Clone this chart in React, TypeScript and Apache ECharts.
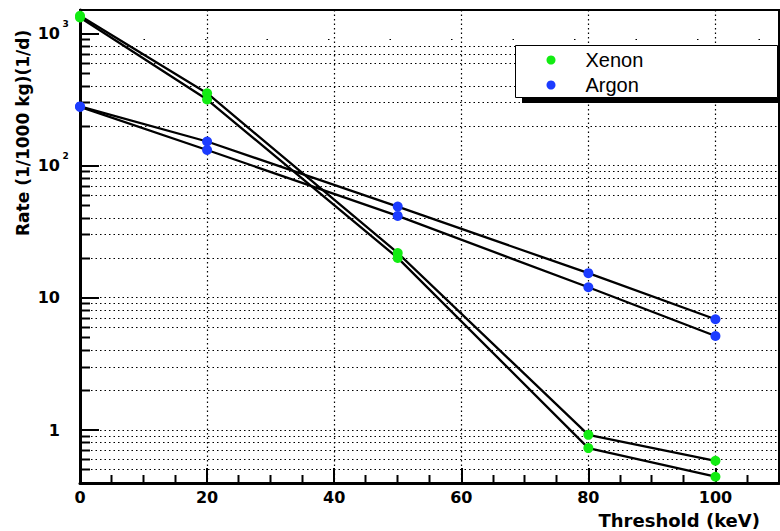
import React, { useEffect, useRef } from 'react';
import * as echarts from 'echarts';

// ---- data ----
const thresholds = [0, 20, 50, 80, 100];
const xenonUpper = [1370, 355, 21.9, 0.92, 0.585];
const xenonLower = [1330, 318, 20.1, 0.73, 0.443];
const argonUpper = [282, 153, 49.2, 15.4, 6.9];
const argonLower = [280, 132, 41.8, 12.05, 5.15];

const xMin = 0;
const xMax = 110;
const yMin = 0.397;
const yMax = 1515;
const xMinorTicks = [5, 10, 15, 25, 30, 35, 45, 50, 55, 65, 70, 75, 85, 90, 95, 105];
const yMinorTicks = [
  0.5, 0.6, 0.7, 0.8, 0.9,
  2, 3, 4, 5, 6, 7, 8, 9,
  20, 30, 40, 50, 60, 70, 80, 90,
  200, 300, 400, 500, 600, 700, 800, 900,
];
const yGridValues = [
  0.5, 0.6, 0.7, 0.8, 0.9, 1,
  2, 3, 4, 6, 7, 8, 9, 10,
  20, 30, 40, 60, 70, 80, 90, 100,
  200, 300, 400, 600, 700, 800,
];
const ySparseGrid = [900];
const legendNames = ['Xenon', 'Argon'];

const GREEN = '#12ec12';
const BLUE = '#1c3cff';
const TICK_FONT = 'DejaVu Sans';

function crisp(v: number) {
  return Math.round(v - 0.5) + 0.5;
}

function hLineSeries(values: number[], dash: number[]) {
  return {
    type: 'custom',
    silent: true,
    z: 1,
    data: values.map((v) => [xMin, v]),
    encode: { x: 0, y: 1 },
    renderItem: (_p: any, api: any) => {
      const v = api.value(1);
      const a = api.coord([xMin, v]);
      const b = api.coord([xMax, v]);
      const y = crisp(a[1]);
      return {
        type: 'line',
        shape: { x1: a[0] + 2, y1: y, x2: b[0], y2: y },
        style: { stroke: '#000', lineWidth: 1.2, lineDash: dash },
      };
    },
  };
}

export default function App() {
  const ref = useRef<HTMLDivElement>(null);

  useEffect(() => {
    if (!ref.current) return;
    const chart = echarts.init(ref.current, null, { renderer: 'svg' });

    const lineSeries = (name: string, vals: number[], color: string) => ({
      type: 'line',
      name,
      data: thresholds.map((x, i) => [x, vals[i]]),
      symbol: 'circle',
      symbolSize: 10,
      showSymbol: true,
      itemStyle: { color, borderWidth: 0 },
      lineStyle: { color: '#000', width: 2.3 },
      z: 5,
    });

    const option: any = {
      animation: false,
      backgroundColor: '#fff',
      grid: {
        left: 80,
        right: 1,
        top: 10,
        bottom: 48,
        show: true,
        borderColor: '#000',
        borderWidth: 2,
        backgroundColor: 'transparent',
        outerBoundsMode: 'none',
        containLabel: false,
      },
      xAxis: {
        type: 'value',
        min: xMin,
        max: xMax,
        interval: 20,
        axisLine: { onZero: false, lineStyle: { color: '#000', width: 3 } },
        axisTick: { inside: true, length: 15, lineStyle: { color: '#000', width: 2 } },
        axisLabel: {
          margin: 6,
          color: '#000',
          fontFamily: TICK_FONT,
          fontWeight: 'bold',
          fontSize: 16,
          showMaxLabel: false,
          formatter: (v: number) => (v % 20 === 0 && v <= 100 ? String(v) : ''),
        },
        splitLine: { show: true, lineStyle: { color: '#000', width: 1.2, type: [1.5, 3] } },
      },
      yAxis: {
        type: 'log',
        logBase: 10,
        min: yMin,
        max: yMax,
        axisLine: { lineStyle: { color: '#000', width: 3 } },
        axisTick: { inside: true, length: 19, lineStyle: { color: '#000', width: 2 } },
        splitLine: { show: false },
        axisLabel: {
          margin: 11,
          color: '#000',
          fontFamily: TICK_FONT,
          fontWeight: 'bold',
          fontSize: 16,
          formatter: (v: number) => {
            const e = Math.log10(v);
            const r = Math.round(e);
            if (Math.abs(e - r) > 1e-6) return '';
            if (r === 0) return '{b|1}{p| }';
            if (r === 1) return '{b|10}{p| }';
            return '{b|10}{s|' + r + '}';
          },
          rich: {
            b: { fontFamily: TICK_FONT, fontWeight: 'bold', fontSize: 16, lineHeight: 28, color: '#000' },
            s: { fontFamily: TICK_FONT, fontSize: 9, lineHeight: 10, verticalAlign: 'top', width: 7, align: 'left', color: '#000', padding: [0, 0, 0, 2] },
            p: { fontSize: 9, lineHeight: 10, width: 9 },
          },
        },
      },
      legend: {
        data: legendNames,
        orient: 'vertical',
        left: 546.5,
        top: 50,
        padding: 0,
        itemGap: 5,
        itemWidth: 9,
        itemHeight: 9,
        icon: 'circle',
        itemStyle: { borderWidth: 0 },
        formatter: (name: string) => '{pad| }{t|' + name + '}',
        textStyle: {
          fontFamily: 'Liberation Sans',
          fontSize: 20,
          color: '#000',
          lineHeight: 20,
          rich: {
            pad: { width: 25, fontSize: 20, lineHeight: 20 },
            t: { fontFamily: 'Liberation Sans', fontSize: 20, color: '#000', lineHeight: 20 },
          },
        },
        z: 20,
        selectedMode: false,
      },
      graphic: [
        { type: 'rect', z: 9, shape: { x: 522, y: 53, width: 270, height: 50 }, style: { fill: '#000' } },
        { type: 'rect', z: 10, shape: { x: 515.5, y: 45.5, width: 262, height: 52 }, style: { fill: '#fff', stroke: '#000', lineWidth: 1 } },
        {
          type: 'text', z: 10, x: 23, y: 236, rotation: Math.PI / 2,
          style: { text: 'Rate (1/1000 kg)(1/d)', fontFamily: TICK_FONT, fontWeight: 'bold', fontSize: 17, fill: '#000', align: 'left', verticalAlign: 'middle' },
        },
        {
          type: 'text', z: 10, x: 760, y: 520,
          style: { text: 'Threshold (keV)', fontFamily: TICK_FONT, fontWeight: 'bold', fontSize: 18, fill: '#000', align: 'right', verticalAlign: 'middle' },
        },
      ],
      series: [
        hLineSeries(yGridValues, [1.5, 3]),
        hLineSeries(ySparseGrid, [1.5, 60]),
        {
          type: 'custom',
          silent: true,
          z: 2,
          data: yMinorTicks.map((v) => [xMin, v]),
          encode: { x: 0, y: 1 },
          renderItem: (_p: any, api: any) => {
            const a = api.coord([xMin, api.value(1)]);
            const y = crisp(a[1]);
            return { type: 'line', shape: { x1: a[0], y1: y, x2: a[0] + 10, y2: y }, style: { stroke: '#000', lineWidth: 2 } };
          },
        },
        {
          type: 'custom',
          silent: true,
          z: 2,
          data: xMinorTicks.map((x) => [x, yMin]),
          encode: { x: 0, y: 1 },
          renderItem: (_p: any, api: any) => {
            const a = api.coord([api.value(0), yMin]);
            const x = crisp(a[0]);
            return { type: 'line', shape: { x1: x, y1: a[1], x2: x, y2: a[1] - 8 }, style: { stroke: '#000', lineWidth: 2 } };
          },
        },
        lineSeries('Xenon', xenonUpper, GREEN),
        lineSeries('Xenon', xenonLower, GREEN),
        lineSeries('Argon', argonUpper, BLUE),
        lineSeries('Argon', argonLower, BLUE),
      ],
    };

    chart.setOption(option);
    return () => chart.dispose();
  }, []);

  return <div ref={ref} style={{ position: 'fixed', left: 0, top: 0, width: 780, height: 531 }} />;
}
